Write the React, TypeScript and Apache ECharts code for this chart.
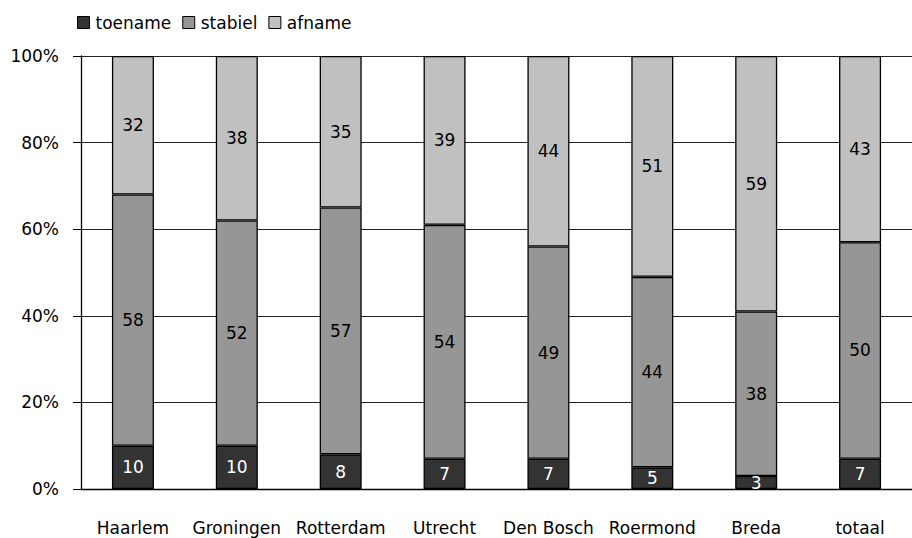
import React, { useEffect, useRef } from "react";
import * as echarts from "echarts";

const categories = ["Haarlem", "Groningen", "Rotterdam", "Utrecht", "Den Bosch", "Roermond", "Breda", "totaal"];
const toename = [10, 10, 8, 7, 7, 5, 3, 7];
const stabiel = [58, 52, 57, 54, 49, 44, 38, 50];
const afname = [32, 38, 35, 39, 44, 51, 59, 43];
const yTicks = [0, 20, 40, 60, 80, 100];

const FONT = "'DejaVu Sans', sans-serif";

export default function App() {
  const ref = useRef<HTMLDivElement>(null);
  useEffect(() => {
    if (!ref.current) return;
    const chart = echarts.init(ref.current, null, { renderer: "svg" });
    const mk = (name: string, data: number[], color: string, labelColor: string) => ({
      name,
      type: "bar",
      stack: "total",
      data,
      barWidth: 42,
      itemStyle: { color, borderColor: "#000", borderWidth: 1.3 },
      label: {
        show: true,
        position: "inside",
        color: labelColor,
        fontFamily: FONT,
        fontSize: 17,
      },
    });
    chart.setOption({
      animation: false,
      textStyle: { fontFamily: FONT },
      legend: {
        left: 72,
        top: 9,
        icon: "rect",
        itemWidth: 12,
        itemHeight: 12,
        itemGap: 11,
        textStyle: { fontFamily: FONT, fontSize: 17, color: "#000", padding: [0, 0, 0, 1] },
        itemStyle: { borderColor: "#000", borderWidth: 1 },
        data: ["toename", "stabiel", "afname"],
      },
      grid: { left: 81, right: -11, top: 56, bottom: 49, containLabel: false },
      xAxis: {
        type: "category",
        data: categories,
        axisLine: { lineStyle: { color: "#000", width: 1.3 } },
        axisTick: { show: false },
        axisLabel: { color: "#000", fontFamily: FONT, fontSize: 17, margin: 30, interval: 0 },
      },
      yAxis: {
        type: "value",
        min: 0,
        max: 100,
        interval: 20,
        axisLine: { show: true, lineStyle: { color: "#000", width: 1.3 } },
        axisTick: { show: true, length: 8, lineStyle: { color: "#000" } },
        axisLabel: {
          color: "#000",
          fontFamily: FONT,
          fontSize: 17,
          margin: 22,
          formatter: (v: number) => (yTicks.includes(v) ? v + "%" : ""),
        },
        splitLine: { show: true, lineStyle: { color: "#222", width: 1 } },
      },
      series: [
        mk("toename", toename, "#333333", "#fff"),
        mk("stabiel", stabiel, "#969696", "#000"),
        mk("afname", afname, "#c0c0c0", "#000"),
      ],
    });
    return () => chart.dispose();
  }, []);
  return <div ref={ref} style={{ width: 912, height: 538, position: "absolute", left: 0, top: 0 }} />;
}
